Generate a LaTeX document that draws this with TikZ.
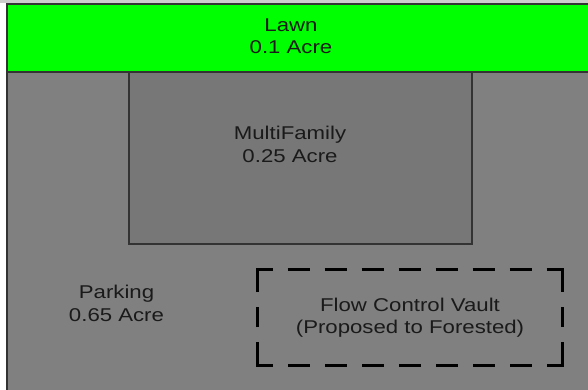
\documentclass[tikz,border=0pt]{standalone}
\usepackage{fontspec}
\setmainfont{Liberation Sans}[FakeStretch=1.2]
\definecolor{bggray}{HTML}{808080}
\definecolor{mfgray}{HTML}{777777}
\definecolor{edge}{HTML}{333333}
\definecolor{lawngreen}{HTML}{00FF00}
\definecolor{txt}{HTML}{1A1A1A}
\begin{document}
\begin{tikzpicture}[x=1pt,y=-1pt,
  lbl/.style={align=center,text=txt,inner sep=0pt,font=\fontsize{18.5}{22.5}\selectfont},
  area/.style={draw=edge,line width=1.6pt}]
\useasboundingbox (0,0) rectangle (588,389);
\fill[white] (0,0) rectangle (588,389);
\fill[gray!40] (0,0) rectangle (588,3);
% parking background
\draw[area,fill=bggray] (7,4) rectangle (600,400);
% lawn
\draw[area,fill=lawngreen] (7,4) rectangle (600,72);
% multifamily
\draw[area,fill=mfgray] (129,72) rectangle (472,244);
% dashed vault
\draw[black,line width=3pt,line join=miter,
  dash pattern=on 22pt off 15pt on 22pt off 15pt on 22pt off 15pt on 22pt off 15pt on 22pt off 15pt on 22pt off 15pt on 22pt off 15pt
  on 38.5pt off 15pt on 20pt off 15pt on 38.5pt off 15pt
  on 22pt off 15pt on 22pt off 15pt on 22pt off 15pt on 22pt off 15pt on 22pt off 15pt on 22pt off 15pt on 22pt off 15pt
  on 38.5pt off 15pt on 20pt off 15pt on 38.5pt off 15pt]
  (287.5,269) -- (562,269) -- (562,365) -- (257,365) -- (257,269) -- cycle;
\node[lbl] (lawn) at (291,36) {Lawn\\0.1 Acre};
\node[lbl] (multi) at (290,144.5) {MultiFamily\\0.25 Acre};
\node[lbl] (park) at (116.5,303.5) {Parking\\0.65 Acre};
\node[lbl] (vault) at (410,317.5) {Flow Control Vault\\(Proposed to Forested)};
\end{tikzpicture}
\end{document}
